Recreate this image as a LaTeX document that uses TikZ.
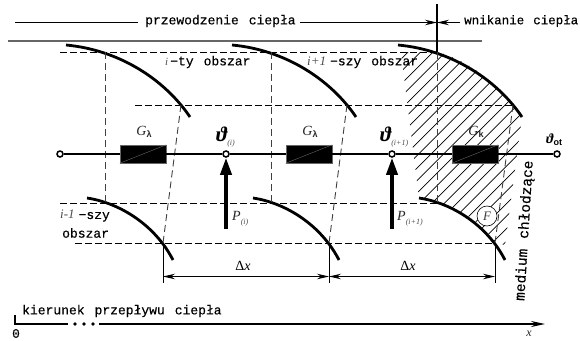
\documentclass[tikz,border=0pt]{standalone}
\usepackage{fontspec}
\newfontfamily\lblfont[FakeBold=0.3]{Liberation Mono}
\newfontfamily\mathfnt{Liberation Serif}
\newfontfamily\boldfnt{Liberation Sans}
\usetikzlibrary{arrows.meta}
\newcommand{\lblsize}[2]{\lblfont\fontsize{#1}{15}\selectfont\spaceskip #2pt\relax}
\newcommand{\subtxt}[1]{\raisebox{-3.5pt}{\color{black!70}\mathfnt\itshape\fontsize{8}{8}\selectfont(#1)}}
\newcommand{\thetasym}{{\mathfnt\bfseries\itshape\fontsize{21}{21}\selectfont ϑ}}
\begin{document}
\begin{tikzpicture}[x=1pt,y=-1pt,
			term/.style={draw, circle, fill=white, line width=1.5pt, inner sep=0pt, minimum size=6pt},
			resist/.style={draw=black!60, fill=black, inner sep=0pt, minimum width=46pt, minimum height=18pt, line width=0.4pt},
			wall/.style={line width=2.8pt},
			dashline/.style={dash pattern=on 6.5pt off 3.5pt, line width=1.2pt},
			thindash/.style={dash pattern=on 7pt off 4pt, line width=0.9pt, black!75},
			dimline/.style={line width=1.1pt, {Stealth[length=12pt,width=5.5pt]}-{Stealth[length=12pt,width=5.5pt]}},
			lbl/.style={inner sep=0pt, font=\lblsize{13}{10}},
			mathlbl/.style={inner sep=0pt, text=black!85, font=\mathfnt\itshape\fontsize{14}{15}\selectfont},
			heat/.style={line width=3.6pt, -{Stealth[length=17pt,width=11pt,inset=0pt]}}
			]
		\useasboundingbox (0,0) rectangle (580,340);
		\fill[white] (0,0) rectangle (580,340);
		% hatching of the wall end
		\begin{scope}
			\clip (401,52) -- (437,52) .. controls (475,62) and (503,90) .. (522,117) -- (505,245) -- (495,243) .. controls (480,220) and (455,204) .. (419,198) -- cycle;
			\foreach \hx in {200,212.5,...,540}
				\draw[line width=0.7pt] (\hx,260) -- ++(220,-220);
		\end{scope}
		% the frame
		\draw[black!60, line width=1.3pt] (8,41) -- (482,41);
		\coordinate (topleft) at (15,22.5);
		\coordinate (topmid) at (437,22.5);
		\coordinate (topcut) at (437,4);
		\coordinate (topdash) at (437,52.5);
		\node[lbl, anchor=west] (cond) at (145,21) {przewodzenie ciepła};
		\node[lbl, anchor=west, font=\lblsize{12.5}{9}] (conv) at (464,21) {wnikanie ciepła};
		\draw[line width=1.1pt] (topleft) -- (138,22.5);
		\draw[line width=1.1pt, -{Stealth[length=12pt,width=5.5pt]}] (300,22.5) -- (topmid);
		\draw[line width=1.1pt, -{Stealth[length=12pt,width=5.5pt]}] (460,22.5) -- (topmid);
		\draw[line width=1.1pt] (topcut) -- (topdash);
		% the cross section, three times
		\draw[dashline] (60,52.5) -- (topdash);
		\draw[dashline] (135,105.5) -- (512,105.5);
		\draw[dashline] (60,203.5) -- (437,203.5);
		\draw[dashline] (75,243.5) -- (495,243.5);
		\foreach \ox in {0,166,332} {
			\begin{scope}[xshift=\ox pt]
				\draw[wall] (66,45) .. controls (120,50) and (165,80) .. (190,117);
				\draw[wall] (87,198) .. controls (120,203) and (155,225) .. (173,260);
				\draw[thindash] (105,52) -- (105,203);
				\draw[thindash] (181,105) -- (163,243);
			\end{scope}
		}
		% the thermal circuit
		\node[term] (t0) at (60,154) {};
		\node[resist] (r1) at (143,154) {};
		\node[term] (t1) at (226,154) {};
		\node[resist] (r2) at (309,154) {};
		\node[term] (t2) at (392,154) {};
		\node[resist] (r3) at (475,154) {};
		\node[term] (t3) at (557,154) {};
		\draw[line width=1.6pt] (t0) -- (r1) -- (t1) -- (r2) -- (t2) -- (r3) -- (t3);
		\foreach \r in {r1,r2,r3}
			\draw[black!60, line width=0.4pt] (\r.south west) -- (\r.north east);
		\node[mathlbl] (g1) at (144,132) {G\raisebox{-2.5pt}{\boldfnt\upshape\bfseries\fontsize{9}{9}\selectfont λ}};
		\node[mathlbl] (g2) at (310,132) {G\raisebox{-2.5pt}{\boldfnt\upshape\bfseries\fontsize{9}{9}\selectfont λ}};
		\node[mathlbl] (g3) at (476,132) {G\raisebox{-2.5pt}{\boldfnt\upshape\bfseries\fontsize{9}{9}\selectfont k}};
		\node[inner sep=0pt, anchor=west] (th1) at (216,137) {\thetasym\subtxt{i}};
		\node[inner sep=0pt, anchor=west] (th2) at (380,137) {\thetasym\subtxt{i+1}};
		\node[inner sep=0pt, anchor=west] (th3) at (546,140) {{\mathfnt\bfseries\itshape\fontsize{14}{14}\selectfont ϑ}\raisebox{-2pt}{\boldfnt\bfseries\fontsize{9}{9}\selectfont ot}};
		% heat sources
		\coordinate (p1) at (226,229);
		\coordinate (p2) at (392,229);
		\draw[heat] (p1) -- (t1);
		\draw[heat] (p2) -- (t2);
		\node[mathlbl, anchor=west] (lp1) at (232,219) {P\subtxt{i}};
		\node[mathlbl, anchor=west] (lp2) at (397,219) {P\subtxt{i+1}};
		% region labels
		\node[lbl, anchor=west] (reg1) at (165,62) {{\color{black!70}\mathfnt\itshape\fontsize{11}{11}\selectfont i}\kern2pt−ty obszar};
		\node[lbl, anchor=west] (reg2) at (307,62) {{\color{black!70}\mathfnt\itshape\fontsize{13}{13}\selectfont i+1}\kern4pt−szy obszar};
		\node[lbl, anchor=west] (reg3) at (60,216) {{\color{black!70}\mathfnt\itshape\fontsize{13}{13}\selectfont i-1}\kern4pt−szy};
		\node[lbl, anchor=west] (reg4) at (62,233) {obszar};
		% dimensions
		\coordinate (d0) at (163,276.5);
		\coordinate (d1) at (329,276.5);
		\coordinate (d2) at (495,276.5);
		\foreach \dx in {163,329,495}
			\draw[line width=0.9pt] (\dx,243.5) -- (\dx,283);
		\draw[dimline] (d0) -- (d1);
		\draw[dimline] (d1) -- (d2);
		\node[mathlbl, text=black] (dl1) at (243,266) {{\upshape Δ}x};
		\node[mathlbl, text=black] (dl2) at (408,266) {{\upshape Δ}x};
		% the circle over the hatching
		\node[draw, circle, fill=white, line width=0.6pt, inner sep=0pt, minimum size=20pt, text=black!75, font=\mathfnt\itshape\fontsize{13}{13}\selectfont] (fa) at (487,216) {F};
		\node[lbl, rotate=86.5, anchor=west, font=\lblsize{14.5}{10}] (cool) at (520.5,301) {medium chłodzące};
		% the axis
		\coordinate (ax0) at (15,315);
		\coordinate (ax1) at (15,324);
		\coordinate (ax2) at (545,324);
		\draw[line width=1.3pt] (ax0) -- (ax1) -- (68,324);
		\draw[line width=1.3pt, -{Stealth[length=14pt,width=6pt]}] (99,324) -- (ax2);
		\foreach \dotx in {75,84,93}
			\fill (\dotx,324) circle (1.8pt);
		\node[lbl, anchor=west] (flow) at (22,311) {kierunek przepływu ciepła};
		\node[lbl] (zero) at (16,333.5) {0};
		\node[mathlbl, font=\mathfnt\itshape\fontsize{12}{12}\selectfont] (xl) at (529,333.5) {x};
		\end{tikzpicture}
\end{document}
